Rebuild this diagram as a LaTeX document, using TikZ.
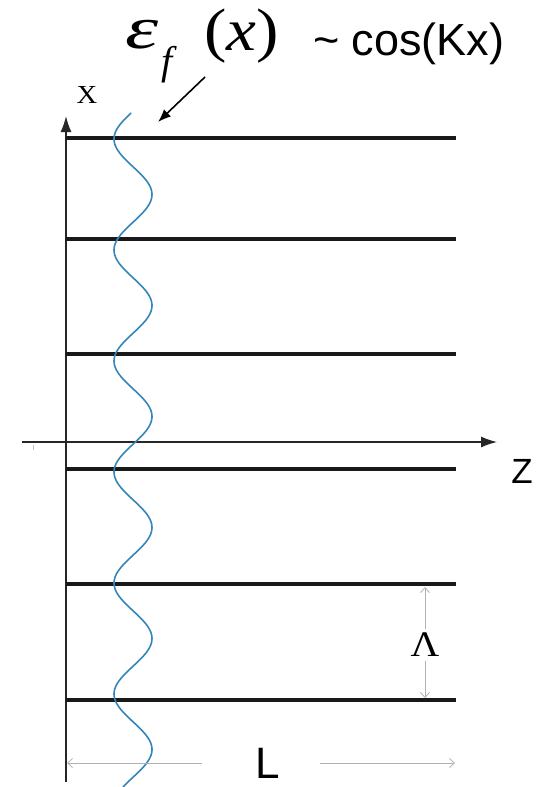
\documentclass[tikz,border=0pt]{standalone}
\usepackage{fontspec}
\setmainfont{Liberation Serif}
\setsansfont{Liberation Sans}
\usetikzlibrary{arrows.meta}
\begin{document}
\begin{tikzpicture}[x=1pt,y=-1pt,
  plate/.style={line width=3.8pt,draw=black!90},
  axisline/.style={line width=1.6pt,draw=black!85},
  dimline/.style={line width=0.8pt,draw=black!30,-{Straight Barb[length=5pt,width=9pt]}},
  wave/.style={line width=1.6pt,draw={rgb,255:red,52;green,134;blue,186}},
  lbl/.style={inner sep=0pt,outer sep=0pt}]
\useasboundingbox (0,0) rectangle (539,787);
% axes
\coordinate (xbot) at (66,782);
\coordinate (xtop) at (66,116);
\coordinate (zl) at (22,442);
\coordinate (zr) at (497,442);
\draw[axisline,-{Latex[length=16pt,width=11pt]}] (xbot) -- (xtop);
\draw[line width=1.3pt,draw=black!85,-{Latex[length=16pt,width=11pt]}] (zl) -- (zr);
\draw[line width=0.6pt,black!25] (33,445) -- (33,450);
% plates
\foreach \y/\n in {138/p1,239/p2,354/p3,469/p4,584/p5,700/p6}{
  \coordinate (\n a) at (66,\y);
  \coordinate (\n b) at (456,\y);
  \draw[plate] (\n a) -- (\n b);
}
% wave
\draw[wave] plot[domain=113:787,samples=300,variable=\t] ({133-19*cos(3.24324*(\t-139))},\t);
% labels
\node[lbl,anchor=base] (X) at (87,103) {\fontsize{26}{26}\selectfont\scalebox{1.1}[1]{X}};
\node[lbl,anchor=base] (Z) at (522,483) {\fontsize{35}{35}\selectfont\sffamily Z};
\node[lbl,anchor=base west] (eps) at (125,48) {\fontsize{60}{60}\selectfont\scalebox{1.4}[1]{\itshape ε}};
\node[lbl,anchor=base west] (epsf) at (161,74) {\fontsize{40}{40}\selectfont\itshape f};
\node[lbl,anchor=base west] (epsx) at (204,50) {\fontsize{60}{60}\selectfont\scalebox{1.12}[1]{(\itshape x\/\upshape)}};
\node[lbl,anchor=base west] (cos) at (313,55) {\fontsize{45}{45}\selectfont\sffamily\char"007E\ cos(Kx)};
\coordinate (ptail) at (205,77);
\coordinate (phead) at (158,122);
\draw[line width=1.6pt,-{Latex[length=13pt,width=10pt]}] (ptail) -- (phead);
% Lambda
\node[lbl] (Lam) at (425,645) {\fontsize{36}{36}\selectfont\scalebox{1.1}[1]{Λ}};
\coordinate (lt) at (425,587);
\coordinate (lb) at (425,698);
\draw[dimline] (Lam.north) ++(0,-4) -- (lt);
\draw[dimline] (Lam.south) ++(0,4) -- (lb);
% L
\node[lbl,anchor=base] (L) at (268,778) {\fontsize{44}{44}\selectfont\sffamily L};
\coordinate (Ll) at (67,763);
\coordinate (Lr) at (455,763);
\coordinate (Lg1) at (202,763);
\coordinate (Lg2) at (320,763);
\draw[dimline] (Lg1) -- (Ll);
\draw[dimline] (Lg2) -- (Lr);
\end{tikzpicture}
\end{document}
